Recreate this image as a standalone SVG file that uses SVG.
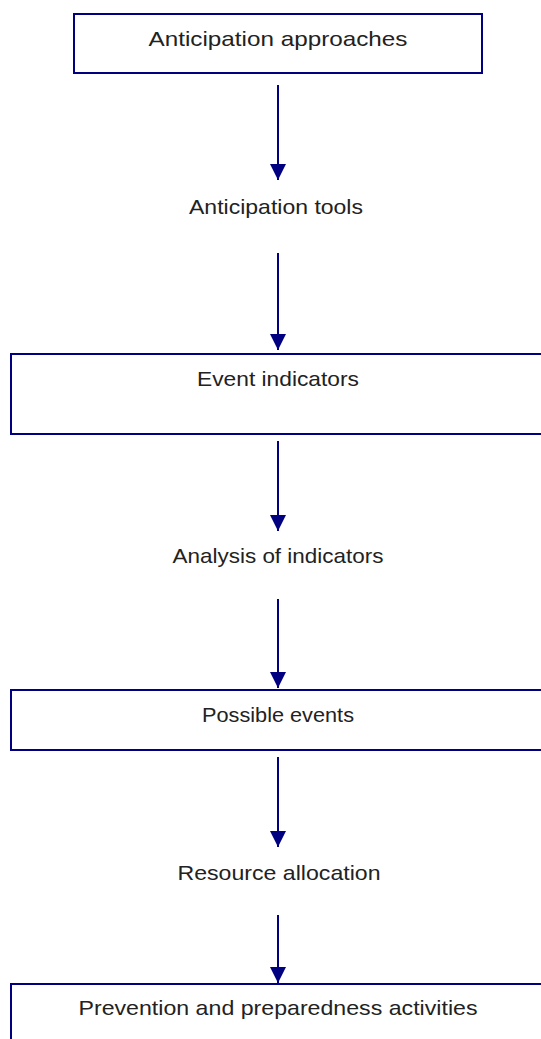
<svg xmlns="http://www.w3.org/2000/svg" width="541" height="1039" viewBox="0 0 541 1039">
<style>
.box{fill:#fff;stroke:#000080;stroke-width:2}
.lbl{font-family:"Liberation Sans",Arial,sans-serif;font-size:21px;fill:#222;text-anchor:middle}
.edge{stroke:#000080;stroke-width:2;fill:none;marker-end:url(#ah)}
</style>
<defs>
<marker id="ah" markerWidth="8" markerHeight="8" refX="8" refY="4" orient="auto" markerUnits="strokeWidth" viewBox="0 0 8 8">
<path d="M0,0 L8,4 L0,8 Z" fill="#000080"/>
</marker>
</defs>
<rect width="541" height="1039" fill="#fff"/>
<g id="connectors">
<line class="edge" x1="278" y1="85" x2="278" y2="180"/>
<line class="edge" x1="278" y1="253" x2="278" y2="350"/>
<line class="edge" x1="278" y1="441" x2="278" y2="531"/>
<line class="edge" x1="278" y1="599" x2="278" y2="688"/>
<line class="edge" x1="278" y1="757" x2="278" y2="847"/>
<line class="edge" x1="278" y1="915" x2="278" y2="983"/>
</g>
<g id="n1">
<rect class="box" x="74" y="14" width="408" height="59"/>
<text class="lbl" x="278" y="46" textLength="259" lengthAdjust="spacingAndGlyphs">Anticipation approaches</text>
</g>
<g id="n2">
<text class="lbl" x="276" y="214" textLength="174" lengthAdjust="spacingAndGlyphs">Anticipation tools</text>
</g>
<g id="n3">
<rect class="box" x="11" y="354" width="545" height="80"/>
<text class="lbl" x="278" y="386" textLength="162" lengthAdjust="spacingAndGlyphs">Event indicators</text>
</g>
<g id="n4">
<text class="lbl" x="278" y="563" textLength="211" lengthAdjust="spacingAndGlyphs">Analysis of indicators</text>
</g>
<g id="n5">
<rect class="box" x="11" y="690" width="545" height="60"/>
<text class="lbl" x="278" y="722" textLength="152" lengthAdjust="spacingAndGlyphs">Possible events</text>
</g>
<g id="n6">
<text class="lbl" x="279" y="880" textLength="203" lengthAdjust="spacingAndGlyphs">Resource allocation</text>
</g>
<g id="n7">
<rect class="box" x="11" y="984" width="545" height="80"/>
<text class="lbl" x="278" y="1015" textLength="399" lengthAdjust="spacingAndGlyphs">Prevention and preparedness activities</text>
</g>
</svg>
